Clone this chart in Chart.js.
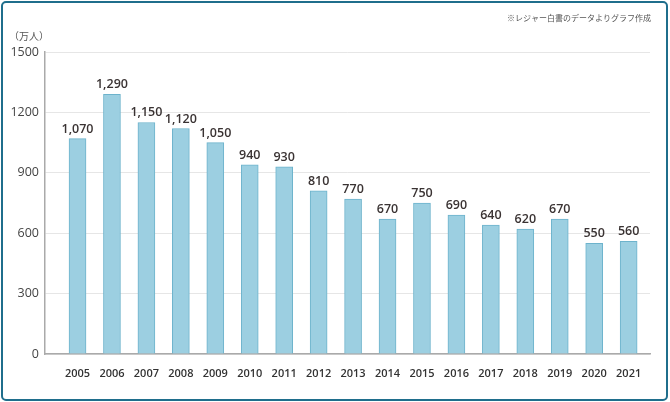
<!DOCTYPE html>
<html lang="ja">
<head>
<meta charset="UTF-8">
<title>レジャー白書</title>
<script src="https://cdn.jsdelivr.net/npm/chart.js@4"></script>
<style>
  html, body { margin: 0; padding: 0; background: #fff; }
  #wrap { position: relative; width: 670px; height: 402px; }
</style>
</head>
<body>
<div id="wrap"><canvas id="chart" width="670" height="402"></canvas></div>
<script>
// values
const years = [2005, 2006, 2007, 2008, 2009, 2010, 2011, 2012, 2013, 2014, 2015, 2016, 2017, 2018, 2019, 2020, 2021];
const people = [1070, 1290, 1150, 1120, 1050, 940, 930, 810, 770, 670, 750, 690, 640, 620, 670, 550, 560];
const yTicks = [0, 300, 600, 900, 1200, 1500];
const unitLabel = '（万人）';
const sourceNote = '※レジャー白書のデータよりグラフ作成';

const points = years.map((y, i) => ({ x: y, y: people[i] }));

// frame, unit label, source note and value labels
const decorations = {
  id: 'decorations',
  beforeDraw(chart) {
    const ctx = chart.ctx;
    ctx.save();
    ctx.fillStyle = '#fff';
    ctx.fillRect(0, 0, chart.width, chart.height);
    ctx.restore();
  },
  afterDatasetsDraw(chart) {
    const ctx = chart.ctx;
    ctx.save();
    ctx.fillStyle = '#3a3333';
    ctx.font = '600 12.5px "Open Sans", sans-serif';
    ctx.textAlign = 'center';
    ctx.textBaseline = 'alphabetic';
    chart.getDatasetMeta(0).data.forEach((bar, i) => {
      ctx.fillText(people[i].toLocaleString('en-US'), bar.x, bar.y - 6);
    });
    ctx.restore();
  },
  afterDraw(chart) {
    const ctx = chart.ctx;
    ctx.save();
    ctx.fillStyle = '#555';
    ctx.font = '10px "Noto Sans CJK JP", sans-serif';
    ctx.textAlign = 'left';
    ctx.textBaseline = 'middle';
    ctx.fillText(unitLabel, 9, 36);
    ctx.font = '8px "Noto Sans CJK JP", sans-serif';
    ctx.textAlign = 'right';
    ctx.fillText(sourceNote, 651, 18);
    ctx.strokeStyle = '#1f6e8c';
    ctx.lineWidth = 2;
    ctx.beginPath();
    ctx.roundRect(2, 2, 665, 398, 4);
    ctx.stroke();
    ctx.restore();
  }
};

new Chart(document.getElementById('chart'), {
  type: 'bar',
  data: {
    datasets: [{
      data: points,
      backgroundColor: '#9ccfe1',
      borderColor: '#6db3cc',
      borderWidth: 1,
      barThickness: 17
    }]
  },
  options: {
    responsive: false,
    animation: false,
    layout: { padding: { left: 0, right: 20, top: 52, bottom: 0 } },
    plugins: { legend: { display: false }, tooltip: { enabled: false } },
    scales: {
      x: {
        type: 'linear',
        offset: false,
        min: 2004.056,
        max: 2021.62,
        afterBuildTicks: scale => { scale.ticks = years.map(v => ({ value: v })); },
        afterFit: scale => { scale.height = 48; },
        grid: { display: false, drawTicks: false, offset: false },
        border: { display: true, color: '#aaaaaa', width: 1.5 },
        ticks: {
          autoSkip: false,
          maxRotation: 0,
          padding: 13,
          color: '#333',
          font: { family: '"Open Sans", sans-serif', size: 11, weight: '600' },
          callback: v => String(v)
        }
      },
      y: {
        min: 0,
        max: 1500,
        afterBuildTicks: scale => { scale.ticks = yTicks.map(v => ({ value: v })); },
        afterFit: scale => { scale.width = 45; },
        grid: { color: '#e6e6e6', drawTicks: false },
        border: { display: true, color: '#aaaaaa', width: 1.5 },
        ticks: {
          padding: 6,
          color: '#444',
          font: { family: '"Open Sans", sans-serif', size: 12.5 },
          callback: v => String(v)
        }
      }
    }
  },
  plugins: [decorations]
});
</script>
</body>
</html>
